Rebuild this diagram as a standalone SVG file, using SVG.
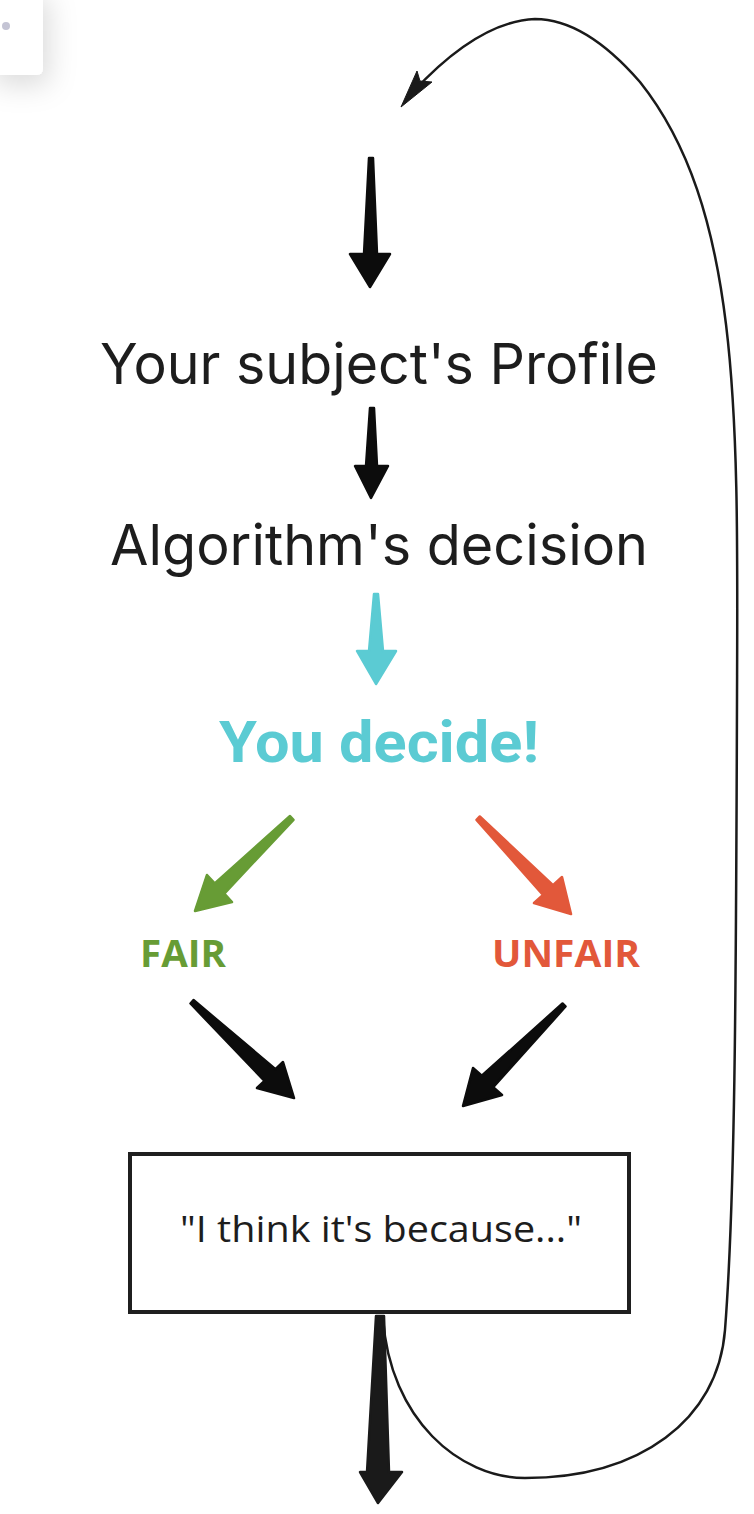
<svg xmlns="http://www.w3.org/2000/svg" width="754" height="1514" viewBox="0 0 754 1514">
<defs>
<filter id="sh" x="-100%" y="-100%" width="300%" height="300%">
<feDropShadow dx="6" dy="10" stdDeviation="14" flood-color="#000" flood-opacity="0.14"/>
</filter>
</defs>
<style>
.lbl{font-family:"Inter","Noto Sans","Liberation Sans",sans-serif;font-size:56px;fill:#1d1d1d;text-anchor:middle}
.bold{font-family:"Open Sans","Noto Sans","Liberation Sans",sans-serif;font-weight:700;text-anchor:middle}
.arr{stroke-linejoin:round;stroke-width:2.5}
.blk{fill:#0c0c0c;stroke:#0c0c0c}
</style>
<rect width="754" height="1514" fill="#fff"/>
<g id="card">
<rect x="-12" y="-12" width="55" height="87" rx="6" fill="#fff" filter="url(#sh)"/>
<circle cx="6" cy="26" r="4" fill="#c4c4d4"/>
</g>
<g id="connectors">
<path d="M383,1318 C390,1420 460,1478 525,1478 C640,1478 718,1420 725,1330 C735,1200 736,1000 737,700 C738,420 742,210 640,82 C600,36 565,19 535,19 C492,21 450,52 413,92" fill="none" stroke="#1a1a1a" stroke-width="2.5"/>
<polygon points="401,107 417,71 420,81 432,82" fill="#1a1a1a" stroke="#1a1a1a" stroke-width="1" stroke-linejoin="round"/>
<polygon class="arr blk" points="369,158 373,158 377,254 390,254 370,287 350,254 364,254"/>
<polygon class="arr blk" points="370,408 374,408 377,466 388,466 371,498 355,466 366,466"/>
<polygon class="arr" fill="#5bcbd3" stroke="#5bcbd3" points="374,594 378,594 383,651 396,651 376,684 357,651 369,651"/>
<polygon class="arr" fill="#679c35" stroke="#679c35" points="290,816 293.5,819.8 224.3,893.6 232,902 195,911 207,875 214.7,883.4"/>
<polygon class="arr" fill="#e2583a" stroke="#e2583a" points="479.8,816.5 553,885.1 562,877 571,914 534,903 543,894.9 476.5,819.8"/>
<polygon class="arr blk" points="193.5,1000 275.5,1069.2 283,1062 294,1098 257,1088 264.5,1080.8 190.5,1003.5"/>
<polygon class="arr blk" points="562.5,1003.5 565.5,1006.5 493.2,1087.2 502,1095 463,1106 473,1068 481.8,1075.8"/>
<polygon class="arr" fill="#1a1a1a" stroke="#1a1a1a" points="376,1316 384,1316 389,1472 402,1472 378,1503 360,1472 367,1472"/>
</g>
<g id="profile"><text class="lbl" x="379" y="384" textLength="558" lengthAdjust="spacingAndGlyphs">Your subject's Profile</text></g>
<g id="decision"><text class="lbl" x="379" y="565" textLength="538" lengthAdjust="spacingAndGlyphs">Algorithm's decision</text></g>
<g id="youdecide"><text x="379" y="762" font-family="Roboto,'Liberation Sans',sans-serif" font-weight="700" font-size="58" fill="#5bcbd3" text-anchor="middle" textLength="320" lengthAdjust="spacingAndGlyphs">You decide!</text></g>
<g id="fair"><text class="bold" x="183" y="967" font-size="37" fill="#679c35" textLength="86" lengthAdjust="spacingAndGlyphs">FAIR</text></g>
<g id="unfair"><text class="bold" x="566" y="967" font-size="37" fill="#e2583a" textLength="148" lengthAdjust="spacingAndGlyphs">UNFAIR</text></g>
<g id="because">
<rect x="130" y="1154" width="499" height="158" fill="#fff" stroke="#1f1f1f" stroke-width="4"/>
<text x="381" y="1242" font-family="'Open Sans','Noto Sans','Liberation Sans',sans-serif" font-size="37" fill="#1d1d1d" text-anchor="middle" textLength="402" lengthAdjust="spacingAndGlyphs">"I think it's because..."</text>
</g>
</svg>
